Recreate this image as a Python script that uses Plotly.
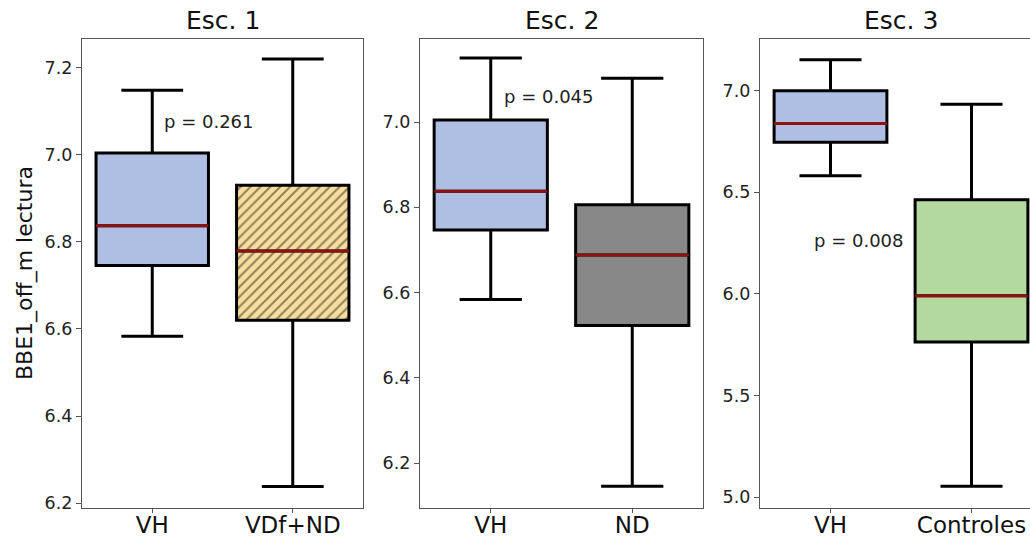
import plotly.graph_objects as go

# ---- data ----
panel_titles = ["Esc. 1", "Esc. 2", "Esc. 3"]
categories = [["VH", "VDf+ND"], ["VH", "ND"], ["VH", "Controles"]]
p_values = ["p = 0.261", "p = 0.045", "p = 0.008"]

lower_fence = [[6.583, 6.238], [6.584, 6.146], [6.582, 5.054]]
q1_vals     = [[6.746, 6.620], [6.747, 6.523], [6.746, 5.763]]
medians     = [[6.837, 6.779], [6.838, 6.688], [6.839, 5.991]]
q3_vals     = [[7.004, 6.930], [7.005, 6.806], [7.000, 6.463]]
upper_fence = [[7.148, 7.220], [7.150, 7.103], [7.152, 6.934]]

# ---- styling ----
fills = [["#AEBFE3", "#F7DE9E"], ["#AEBFE3", "#888888"], ["#AEBFE3", "#B4D99E"]]
hatched = [[False, True], [False, False], [False, False]]
MED_COLOR = "#8E1212"
FONT = "DejaVu Sans"
BOX_W = 0.8

x_domains = [[82/1030, 363/1030], [420/1030, 703/1030], [760/1030, 1.0]]
y_domain = [(540-507.5)/540, (540-38.5)/540]
y_ranges = [[6.19, 7.267], [6.096, 7.196], [4.949, 7.257]]
x_ranges = [[0.5, 2.5], [0.5, 2.5], [0.5, 2.415]]
y_dticks = [0.2, 0.2, 0.5]
p_pos = [(1.40, 7.076), (1.41, 7.059), (1.20, 6.262)]

fig = go.Figure()

for i in range(3):
    xa = "x" if i == 0 else f"x{i+1}"
    ya = "y" if i == 0 else f"y{i+1}"
    for j in range(2):
        pos = j + 1
        if hatched[i][j]:
            fig.add_trace(go.Bar(
                x=[pos], base=[q1_vals[i][j]], y=[q3_vals[i][j] - q1_vals[i][j]],
                width=BOX_W, xaxis=xa, yaxis=ya, showlegend=False, hoverinfo="skip",
                marker=dict(color=fills[i][j], line=dict(width=0),
                            pattern=dict(shape="/", fgcolor="#2A2418", size=7, solidity=0.28)),
            ))
            fc = "rgba(0,0,0,0)"
        else:
            fc = fills[i][j]
        fig.add_trace(go.Box(
            x=[pos], q1=[q1_vals[i][j]], median=[medians[i][j]], q3=[q3_vals[i][j]],
            lowerfence=[lower_fence[i][j]], upperfence=[upper_fence[i][j]],
            width=BOX_W, whiskerwidth=0.55, fillcolor=fc,
            line=dict(color="black", width=3), boxpoints=False,
            xaxis=xa, yaxis=ya, showlegend=False, hoverinfo="skip",
        ))
        # red median line drawn as a zero-height box
        fig.add_trace(go.Box(
            x=[pos], q1=[medians[i][j]], median=[medians[i][j]], q3=[medians[i][j]],
            lowerfence=[medians[i][j]], upperfence=[medians[i][j]],
            width=BOX_W, whiskerwidth=0, fillcolor="rgba(0,0,0,0)",
            line=dict(color=MED_COLOR, width=3), boxpoints=False,
            xaxis=xa, yaxis=ya, showlegend=False, hoverinfo="skip",
        ))

layout = dict(
    width=1030, height=540,
    margin=dict(l=0, r=0, t=0, b=0, autoexpand=False),
    paper_bgcolor="white", plot_bgcolor="white",
    boxmode="overlay", barmode="overlay",
    font=dict(family=FONT, color="#111111"),
    annotations=[],
)

for i in range(3):
    xk = "xaxis" if i == 0 else f"xaxis{i+1}"
    yk = "yaxis" if i == 0 else f"yaxis{i+1}"
    layout[xk] = dict(
        domain=x_domains[i], range=x_ranges[i], anchor="y" if i == 0 else f"y{i+1}",
        tickmode="array", tickvals=[1, 2], ticktext=categories[i],
        showline=True, mirror=True, linecolor="#555555", linewidth=1.2,
        ticks="outside", ticklen=4, tickcolor="#555555", tickwidth=1,
        tickfont=dict(size=23, family=FONT, color="#111111"),
        showgrid=False, zeroline=False, fixedrange=True, automargin=False,
    )
    layout[yk] = dict(
        domain=y_domain, range=y_ranges[i], anchor="x" if i == 0 else f"x{i+1}",
        dtick=y_dticks[i], tick0=0, tickformat=".1f",
        showline=True, mirror=(i < 2), linecolor="#555555", linewidth=1.2,
        ticks="outside", ticklen=5, tickcolor="#555555", tickwidth=1,
        tickfont=dict(size=17.5, family=FONT, color="#222222"),
        showgrid=False, zeroline=False, fixedrange=True, automargin=False,
    )
    if i == 2:
        cx = (760 + 141 * 1.0) / 1030  # centre of full (clipped) panel
    else:
        cx = (x_domains[i][0] + x_domains[i][1]) / 2
    layout["annotations"].append(dict(
        text=panel_titles[i], xref="paper", yref="paper", x=cx, y=1 - 21/540,
        xanchor="center", yanchor="middle", showarrow=False,
        font=dict(size=25, family=FONT, color="#111111"),
    ))
    layout["annotations"].append(dict(
        text=p_values[i], xref="x" if i == 0 else f"x{i+1}", yref="y" if i == 0 else f"y{i+1}",
        x=p_pos[i][0], y=p_pos[i][1], xanchor="center", yanchor="middle", showarrow=False,
        font=dict(size=18, family=FONT, color="#222222"),
    ))

layout["annotations"].append(dict(
    text="BBE1_off_m lectura", xref="paper", yref="paper", x=25/1030, y=1 - 273/540,
    xanchor="center", yanchor="middle", textangle=-90, showarrow=False,
    font=dict(size=22, family=FONT, color="#111111"),
))

fig.update_layout(**layout)
try:
    fig.update_xaxes(ticklabelstandoff=-7)
except (ValueError, TypeError):
    pass
fig.write_html("out.html", include_plotlyjs=True, config={"displayModeBar": False})
